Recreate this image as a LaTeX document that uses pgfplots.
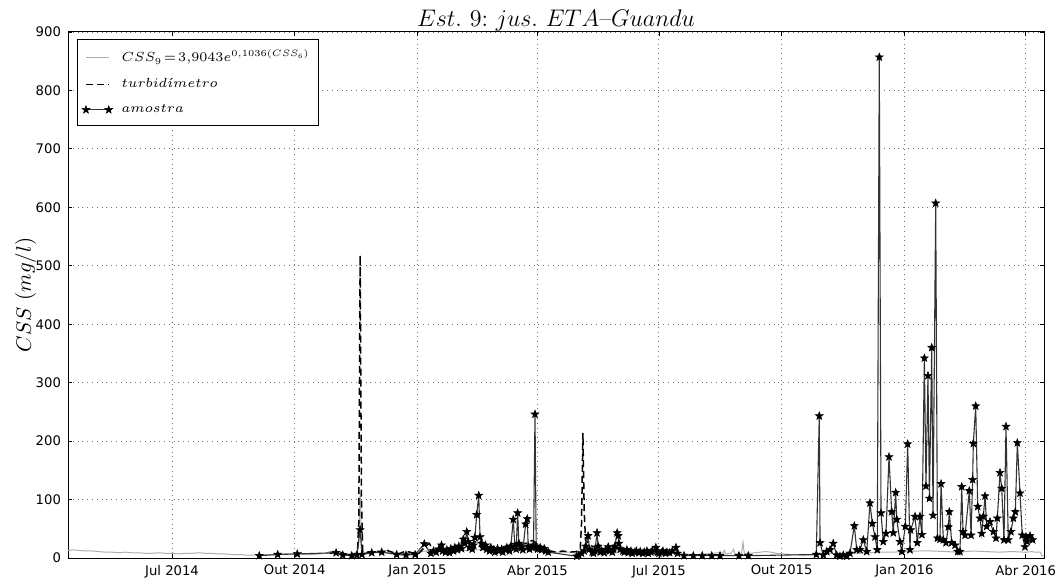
\RequirePackage{fix-cm}
\documentclass[border=0pt]{standalone}
\usepackage{fontspec}
\usepackage{pgfplots}
\pgfplotsset{compat=1.18}
\newfontfamily\djv{DejaVu Sans}

\pgfdeclareplotmark{fstar}{%
\pgfpathmoveto{\pgfpointpolar{90}{\pgfplotmarksize}}%
\pgfpathlineto{\pgfpointpolar{126}{0.42\pgfplotmarksize}}%
\pgfpathlineto{\pgfpointpolar{162}{\pgfplotmarksize}}%
\pgfpathlineto{\pgfpointpolar{198}{0.42\pgfplotmarksize}}%
\pgfpathlineto{\pgfpointpolar{234}{\pgfplotmarksize}}%
\pgfpathlineto{\pgfpointpolar{270}{0.42\pgfplotmarksize}}%
\pgfpathlineto{\pgfpointpolar{306}{\pgfplotmarksize}}%
\pgfpathlineto{\pgfpointpolar{342}{0.42\pgfplotmarksize}}%
\pgfpathlineto{\pgfpointpolar{18}{\pgfplotmarksize}}%
\pgfpathlineto{\pgfpointpolar{54}{0.42\pgfplotmarksize}}%
\pgfpathclose
\pgfusepathqfillstroke}

\begin{document}
\begin{tikzpicture}
\begin{axis}[
 name=ax,
 scale only axis, width=488pt, height=263pt,
 xmin=-78, xmax=653.7, ymin=0, ymax=900,
 xtick={0,92,184,274,365,457,549,640},
 xticklabels={Jul 2014, Out 2014, Jan 2015, Abr 2015, Jul 2015, Out 2015, Jan 2016, Abr 2016},
 ytick={0,100,200,300,400,500,600,700,800,900},
 tick align=inside, major tick length=2.2pt,
 tick style={black, line width=0.4pt},
 tick label style={font=\djv\fontsize{6.6}{7.5}\selectfont},
 /pgf/number format/assume math mode=true,
 grid=major, major grid style={dotted, black!55, line width=0.45pt},
 axis line style={line width=0.5pt},
 title={$Est.\ 9{:}\ jus.\ ETA\mbox{--}Guandu$},
 title style={font=\fontsize{12}{14}\selectfont, yshift=-9pt},
 ylabel={$CSS\ (mg/l)$},
 ylabel style={font=\fontsize{10.5}{12}\selectfont, yshift=-7pt},
 legend style={at={(0.009,0.986)}, anchor=north west, draw=black,
   font=\fontsize{6.6}{7.8}\selectfont, row sep=2.8pt, inner xsep=2.5pt, inner ysep=2.8pt},
 legend cell align=left,
 legend image code/.code={\draw[mark repeat=2,mark phase=1,#1] plot coordinates {(0cm,0cm) (0.2cm,0cm) (0.4cm,0cm)};},
]
\addplot[black!32, line width=0.5pt] coordinates {
(-78,13) (-74,14) (-70,13) (-65,12) (-60,12) (-55,11) (-50,10) (-45,10) (-40,9) (-35,10) (-30,9) (-25,9) (-20,8) (-15,8) (-10,9) (-5,8) (0,8) (5,7) (10,8) (15,8) (20,9) (25,8) (30,8) (35,7) (40,7) (45,6) (50,6) (55,5) (60,5) (65,5) (70,6) (75,6) (80,6) (85,7) (90,7) (95,7) (100,6) (105,6) (110,7) (115,8) (118,11) (121,12) (124,9) (128,7) (132,7) (136,8) (139,10) (140,25) (141,114) (142,20) (143,10) (146,9) (150,10) (155,11) (160,10) (165,9) (170,8) (175,9) (180,9) (185,10) (190,12) (195,11) (200,12) (210,12) (220,13) (230,14) (240,13) (250,12) (260,13) (270,13) (280,11) (290,10) (300,10) (305,11) (310,12) (320,11) (330,10) (340,10) (350,9) (360,9) (370,8) (380,7) (385,7) (390,6) (395,6) (400,7) (405,8) (410,9) (413,8) (414,13) (415,7) (419,8) (421,15) (422,7) (427,8) (428,27) (429,8) (433,8) (437,9) (441,10) (445,11) (449,10) (453,8) (458,7) (463,6) (468,6) (473,5) (478,5) (483,6) (490,7) (500,8) (510,8) (520,9) (530,10) (540,10) (550,11) (560,12) (570,12) (580,11) (590,10) (600,12) (610,11) (620,10) (630,11) (640,10) (645,11) (646,10) (651,10) (652,4) (653.7,3)
};
\addlegendentry{\hspace{2.5pt}$CSS_9\!=\!3{,}9043e^{0{,}1036(CSS_6)}$}
\addplot[black, line width=0.75pt, dash pattern=on 3.5pt off 2pt] coordinates {
(118,8) (125,10) (130,7) (135,6) (139,8) (140,60) (141,518) (142,100) (143,10) (148,9) (152,12) (156,9) (160,14) (165,10) (170,7) (175,12) (180,9) (185,8) (190,20) (193,25) (196,10) (200,18) (205,15) (210,16) (215,20) (220,30) (225,25) (230,30) (235,20) (240,18) (245,15) (250,20) (255,25) (260,22) (265,25) (270,30) (274,25) (278,15) (283,12) (288,10) (293,12) (298,10) (303,11) (306,15) (307,60) (308,214) (309,80) (310,30) (315,20) (320,18) (325,15) (330,20) (335,18) (340,12) (345,10) (350,12) (355,10) (360,14) (365,12) (370,10) (375,8)
};
\addlegendentry{\hspace{2.5pt}$turbid\acute{\imath}metro$}
\addplot[black!80, line width=0.55pt, mark=fstar, mark size=2pt, mark options={fill=black, draw=black, line width=0.3pt, solid}] coordinates {
(65.4,4) (79.2,6) (93.9,7) (123,9) (128,5) (134.7,4) (138.5,5) (141,48) (142.4,6) (149.7,9) (157.2,10) (168.4,6) (175.4,5) (182.2,6) (189.1,24)
(194,8) (196,12) (198,10) (200,15) (202,22) (203,12) (205,10) (206,14) (208,9) (209,16) (211,12) (212,18) (214,14) (215,20) (217,16) (218.4,32) (219.5,25) (220.9,45) (222,28) (223,18) (225,15) (226,22) (227,35) (228.4,74) (229.9,107) (230.9,36) (232,25) (233,18) (235,22) (236,15) (238,12) (239,18) (241,14) (242,10) (244,16) (245,12) (247,15) (248,10) (250,14) (251,18) (253,12) (254,20) (255.8,66) (257,20) (258,15) (259.1,77) (260,25) (262,18) (263,14) (265.1,58) (266.3,67) (267,20) (268,15) (270,18) (271,22) (272.1,246) (273,20) (274,15) (276,18) (277,14) (279,16) (280,12) (282,10)
(303.4,3) (305,5) (307,8) (309,12) (310,20) (311.9,38) (313,15) (315,10) (316,8) (317,12) (318.6,43) (319.5,20) (321,10) (322,12) (324,9) (325,14) (327,19) (328,12) (330,10) (331,15) (332,20) (333.7,43) (334.5,38) (335,25) (336,15) (338,12) (339,10) (341,14) (342,9) (344,12) (345,8) (347,10) (348,12) (350,9) (351,11) (353,8) (354,10) (356,12) (357,8) (359,10) (360,12) (362.7,18) (364,10) (365,8) (367,9) (368,12) (370,8) (371,10) (373,9) (375,12) (377.8,18) (379,8) (383.8,4) (390.8,4) (397.5,4) (404.6,4) (410.8,4) (425,4) (432,4) (483,6)
(485.2,243) (485.8,26) (488.2,5) (490.8,11) (493.3,14) (495.7,25) (498.3,5) (500.7,3) (503.2,5) (505.8,3) (508.2,8) (511.5,55) (513.3,14) (515.7,14) (518.2,31) (520.8,11) (523.2,94) (525,59) (527,36) (528.7,14) (530.2,857) (531.5,77) (533.2,28) (535.2,42) (537.5,173) (539.5,79) (540.7,43) (542.5,112) (543.3,66) (545.7,28) (547,11) (549.7,54) (551.5,195) (553.2,14) (553.7,48) (557,71) (558.7,26) (560.7,71) (562.2,40) (564,342) (565.2,123) (566.7,312) (567.8,102) (569.5,360) (570.5,73) (572.5,607) (573.8,34) (575.7,32) (576.5,127) (578.2,31) (580.2,26) (582,53) (582.7,79) (584.5,26) (587,22) (589,11) (590.7,11) (592,122) (593,45) (594.5,39) (597.7,115) (599,39) (600.2,134) (600.7,196) (602.5,260) (604,88) (605.7,68) (607,42) (608.2,71) (609.5,106) (610.7,54) (613.2,62) (615.7,45) (617.7,34) (618.7,68) (620.7,146) (622,119) (623.7,31) (625.2,225) (626.9,31) (628.9,45) (630.7,68) (632.2,79) (633.7,197) (635.7,111) (637.4,39) (639.4,19) (640.2,36) (641.2,28) (643.2,38) (645.2,31)
};
\addlegendentry{\hspace{2.5pt}$amostra$}
\end{axis}
\pgfresetboundingbox
\path ([shift={(-34pt,-10pt)}]ax.south west) rectangle ([shift={(8pt,16pt)}]ax.north east);
\end{tikzpicture}
\end{document}
